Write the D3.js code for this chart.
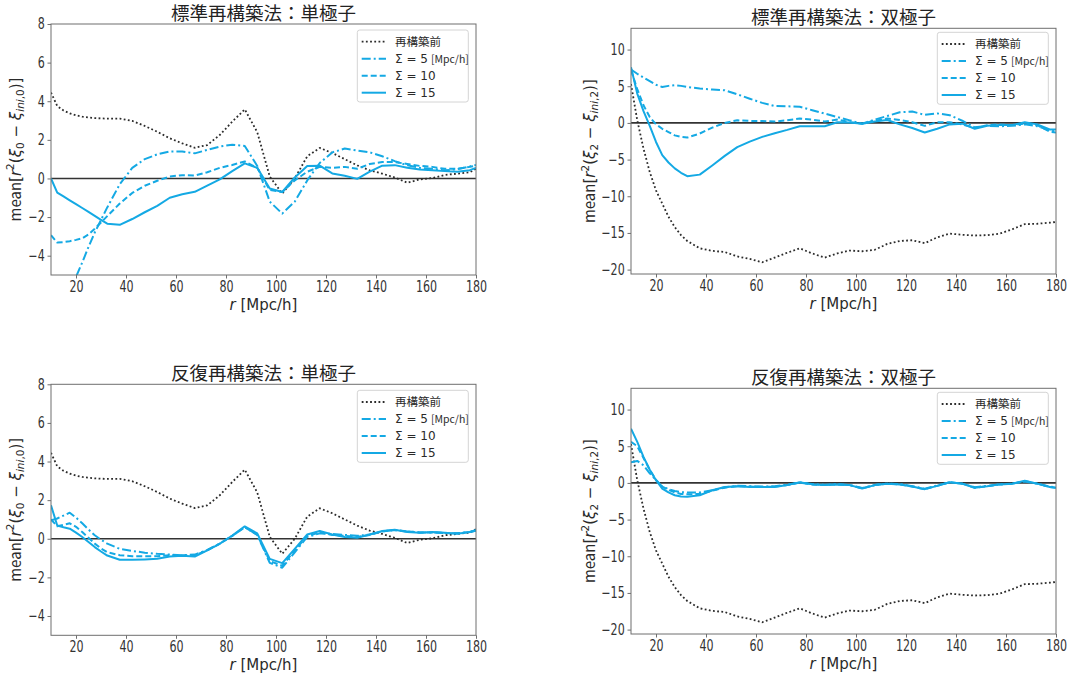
<!DOCTYPE html>
<html>
<head>
<meta charset="utf-8">
<script src="https://cdn.jsdelivr.net/npm/d3@7"></script>
<style>
  body { margin: 0; background: #fff; }
  svg text { font-family: "Noto Sans CJK JP", sans-serif; fill: #2a2a2a; }
</style>
</head>
<body>
<div id="chart"></div>
<script>
// separation r [Mpc/h] where every curve is sampled
var rValues = [10, 12.5, 15, 17.5, 20, 22.5, 25, 27.5, 30, 32.5, 37.5, 42.5, 47.5, 52.5, 57.5, 62.5,
  67.5, 72.5, 77.5, 82.5, 87.5, 92.5, 97.5, 102.5, 107.5, 112.5, 117.5, 122.5, 127.5, 132.5,
  137.5, 142.5, 147.5, 152.5, 157.5, 162.5, 167.5, 172.5, 177.5, 180];

// monopole: before reconstruction (same curve in both monopole panels)
var monoBefore = [4.45, 3.75, 3.52, 3.37, 3.27, 3.2, 3.16, 3.13, 3.11, 3.1, 3.1, 2.98, 2.72, 2.42, 2.08, 1.82,
  1.59, 1.73, 2.25, 2.94, 3.58, 2.4, 0.1, -0.78, 0.0, 1.15, 1.58, 1.32, 1.0, 0.68,
  0.42, 0.25, 0.05, -0.22, -0.05, 0.02, 0.18, 0.25, 0.32, 0.5];
// monopole, standard reconstruction
var monoStd5 = [-8.3, -7.5, -6.8, -6.0, -5.1, -4.35, -3.55, -2.8, -2.15, -1.5, -0.3, 0.55, 1.0, 1.25, 1.4, 1.4,
  1.3, 1.48, 1.65, 1.75, 1.68, 0.65, -1.2, -1.82, -1.2, -0.1, 0.8, 1.35, 1.55, 1.45,
  1.35, 1.15, 0.9, 0.68, 0.55, 0.5, 0.42, 0.48, 0.62, 0.7];
var monoStd10 = [-2.94, -3.32, -3.3, -3.25, -3.18, -3.1, -2.9, -2.6, -2.28, -1.95, -1.3, -0.75, -0.38, -0.12, 0.1, 0.17,
  0.15, 0.32, 0.55, 0.7, 0.88, 0.55, -0.6, -0.7, -0.1, 0.35, 0.6, 0.55, 0.6, 0.5,
  0.75, 0.85, 0.85, 0.75, 0.65, 0.6, 0.5, 0.5, 0.6, 0.65];
var monoStd15 = [0, -0.73, -0.93, -1.13, -1.33, -1.53, -1.73, -1.94, -2.14, -2.34, -2.4, -2.1, -1.75, -1.42, -1.0, -0.82,
  -0.69, -0.37, -0.05, 0.38, 0.78, 0.55, -0.52, -0.7, 0.05, 0.65, 0.66, 0.26, 0.14, -0.02,
  0.35, 0.66, 0.69, 0.55, 0.47, 0.43, 0.38, 0.35, 0.43, 0.55];
// monopole, iterative reconstruction
var monoIter5 = [0.95, 1.05, 1.2, 1.35, 1.1, 0.8, 0.48, 0.18, -0.05, -0.25, -0.52, -0.63, -0.72, -0.78, -0.82, -0.85,
  -0.82, -0.58, -0.25, 0.15, 0.6, 0.2, -1.25, -1.5, -0.7, 0.1, 0.28, 0.25, 0.2, 0.15,
  0.22, 0.38, 0.45, 0.38, 0.33, 0.33, 0.3, 0.28, 0.35, 0.45];
var monoIter10 = [1.0, 0.65, 0.72, 0.8, 0.62, 0.35, 0.05, -0.25, -0.5, -0.7, -0.85, -0.9, -0.9, -0.9, -0.85, -0.85,
  -0.85, -0.6, -0.25, 0.15, 0.6, 0.2, -1.15, -1.4, -0.6, 0.15, 0.32, 0.2, 0.15, 0.1,
  0.2, 0.38, 0.45, 0.38, 0.33, 0.33, 0.3, 0.28, 0.35, 0.42];
var monoIter15 = [1.73, 0.69, 0.6, 0.52, 0.32, 0.09, -0.17, -0.43, -0.66, -0.87, -1.09, -1.09, -1.07, -1.04, -0.92, -0.88,
  -0.92, -0.6, -0.26, 0.17, 0.64, 0.28, -1.04, -1.26, -0.52, 0.22, 0.4, 0.22, 0.09, 0.05,
  0.22, 0.4, 0.47, 0.35, 0.31, 0.35, 0.31, 0.26, 0.35, 0.42];

// quadrupole: before reconstruction
var quadBefore = [5.3, 0.36, -3.5, -6.7, -9.2, -11.0, -12.8, -14.2, -15.3, -16.1, -17.1, -17.45, -17.6, -18.2, -18.55, -19.0,
  -18.36, -17.7, -17.1, -17.8, -18.36, -17.8, -17.4, -17.5, -17.3, -16.5, -16.1, -16.0, -16.4, -15.6,
  -15.1, -15.25, -15.35, -15.3, -15.1, -14.5, -13.8, -13.75, -13.6, -13.5];
// quadrupole, standard reconstruction
var quadStd5 = [7.27, 6.7, 6.2, 5.7, 5.2, 4.9, 5.05, 5.14, 5.05, 4.9, 4.68, 4.55, 4.45, 3.9, 3.3, 2.73,
  2.3, 2.27, 2.2, 1.73, 1.27, 0.8, 0.35, -0.1, 0.45, 0.95, 1.45, 1.55, 1.1, 1.3,
  1.05, 0.3, -0.6, -0.4, -0.45, -0.4, -0.2, -0.45, -1.0, -1.2];
var quadStd10 = [7.2, 4.6, 2.4, 0.8, -0.2, -0.8, -1.25, -1.7, -1.9, -2.0, -1.45, -0.65, 0.0, 0.36, 0.27, 0.27,
  0.18, 0.36, 0.6, 0.45, 0.18, 0.45, 0.1, -0.1, 0.3, 0.6, 0.4, 0.1, -0.4, 0.1,
  0.1, -0.2, -0.7, -0.3, -0.2, -0.3, -0.1, -0.3, -1.2, -1.3];
var quadStd15 = [7.6, 4.0, 1.6, -0.4, -2.6, -4.4, -5.4, -6.2, -6.8, -7.27, -7.05, -5.8, -4.5, -3.3, -2.55, -1.9,
  -1.4, -0.95, -0.45, -0.45, -0.45, 0.1, 0.05, -0.1, 0.2, 0.4, -0.2, -0.7, -1.3, -0.8,
  -0.2, -0.1, -0.8, -0.4, -0.3, -0.3, 0.1, -0.2, -0.9, -0.9];
// quadrupole, iterative reconstruction
var quadIter5 = [2.8, 3.0, 2.4, 1.3, 0.4, -0.5, -0.85, -1.1, -1.25, -1.3, -1.3, -1.0, -0.6, -0.4, -0.45, -0.5,
  -0.45, -0.25, 0.05, -0.15, -0.25, -0.15, -0.3, -0.7, -0.3, -0.1, -0.15, -0.45, -0.8, -0.35,
  0.1, -0.1, -0.6, -0.4, -0.2, -0.1, 0.2, -0.1, -0.5, -0.6];
var quadIter10 = [5.6, 5.0, 3.4, 1.8, 0.4, -0.5, -0.95, -1.3, -1.5, -1.55, -1.5, -1.05, -0.65, -0.45, -0.5, -0.55,
  -0.5, -0.3, 0.05, -0.2, -0.3, -0.2, -0.3, -0.75, -0.3, -0.1, -0.2, -0.5, -0.85, -0.4,
  0.1, -0.1, -0.65, -0.45, -0.2, -0.1, 0.25, -0.1, -0.55, -0.65];
var quadIter15 = [7.4, 5.6, 3.55, 1.8, 0.36, -0.77, -1.3, -1.68, -1.85, -1.9, -1.68, -1.0, -0.55, -0.45, -0.55, -0.55,
  -0.55, -0.3, 0.1, -0.2, -0.3, -0.2, -0.3, -0.75, -0.3, -0.1, -0.2, -0.5, -0.85, -0.4,
  0.1, -0.1, -0.65, -0.45, -0.2, -0.1, 0.3, -0.1, -0.55, -0.65];

// tick values and labels
var xTicks = [20, 40, 60, 80, 100, 120, 140, 160, 180];
var monoTicks = [-4, -2, 0, 2, 4, 6, 8];
var quadTicks = [-20, -15, -10, -5, 0, 5, 10];
var legendLabels = ["再構築前", "Σ = 5", "Σ = 10", "Σ = 15"];
var legendUnit = "[Mpc/h]";
var titles = ["標準再構築法：単極子", "標準再構築法：双極子", "反復再構築法：単極子", "反復再構築法：双極子"];

// fonts and colours
var cjkFont = '"Noto Sans CJK JP", sans-serif';
var mathFont = '"DejaVu Sans", sans-serif';
var blue = "#14a9e4";
var frameColor = "#6e6e6e";
var lineStyles = [
  {color: "#2b2b2b", width: 1.8, dash: "1.8,2.4"},
  {color: blue, width: 2, dash: "9,3,2,3"},
  {color: blue, width: 2, dash: "6,3"},
  {color: blue, width: 2, dash: null}
];

// panel boxes (pixels)
var panels = [
  {left: 51, top: 24, w: 425, h: 251, domain: [-5, 8], ticks: monoTicks, ell: "0", labelX: 20.5, legendDy: 6,
    series: [monoBefore, monoStd5, monoStd10, monoStd15]},
  {left: 631, top: 28.3, w: 425, h: 245.7, domain: [-20.6, 12.9], ticks: quadTicks, ell: "2", labelX: 595, legendDy: 4,
    series: [quadBefore, quadStd5, quadStd10, quadStd15]},
  {left: 51, top: 384.3, w: 425, h: 251, domain: [-5, 8], ticks: monoTicks, ell: "0", labelX: 20.5, legendDy: 6,
    series: [monoBefore, monoIter5, monoIter10, monoIter15]},
  {left: 631, top: 388.3, w: 425, h: 245.7, domain: [-20.6, 12.9], ticks: quadTicks, ell: "2", labelX: 595, legendDy: 4,
    series: [quadBefore, quadIter5, quadIter10, quadIter15]}
];

var width = 1073, height = 674;
var svg = d3.select("#chart").append("svg")
  .attr("width", width)
  .attr("height", height);

// append tspans for a small mathtext-like label
function addParts(text, parts, size) {
  var shift = 0;
  parts.forEach(function(pt) {
    var s = pt.sup ? -0.42 * size : (pt.sub ? 0.22 * size : 0);
    text.append("tspan")
      .attr("dy", s - shift)
      .style("font-size", ((pt.sup || pt.sub) ? size * 0.7 : size) + "px")
      .style("font-style", pt.it ? "italic" : "normal")
      .style("font-family", pt.cjk ? cjkFont : mathFont)
      .text(pt.t);
    shift = s;
  });
}

panels.forEach(function(p, i) {
  var x = d3.scaleLinear().domain([10, 180]).range([p.left, p.left + p.w]);
  var y = d3.scaleLinear().domain(p.domain).range([p.top + p.h, p.top]);
  var g = svg.append("g");

  g.append("clipPath").attr("id", "clip" + i)
    .append("rect")
    .attr("x", p.left).attr("y", p.top)
    .attr("width", p.w).attr("height", p.h);

  // title
  g.append("text")
    .attr("x", p.left + p.w / 2)
    .attr("y", p.top - 4.5)
    .attr("text-anchor", "middle")
    .style("font-size", "18.5px")
    .style("fill", "#222")
    .text(titles[i]);

  // zero line
  g.append("line")
    .attr("x1", p.left).attr("x2", p.left + p.w)
    .attr("y1", y(0)).attr("y2", y(0))
    .attr("stroke", "#333")
    .attr("stroke-width", 1.6);

  // curves
  var line = d3.line()
    .x(function(d) { return x(d[0]); })
    .y(function(d) { return y(d[1]); });
  var plot = g.append("g").attr("clip-path", "url(#clip" + i + ")");
  p.series.forEach(function(vals, k) {
    var st = lineStyles[k];
    plot.append("path")
      .datum(d3.zip(rValues, vals))
      .attr("d", line)
      .attr("fill", "none")
      .attr("stroke", st.color)
      .attr("stroke-width", st.width)
      .attr("stroke-dasharray", st.dash)
      .attr("stroke-linejoin", "round");
  });

  // axes
  var xAxis = d3.axisBottom(x).tickValues(xTicks).tickSize(3.5).tickPadding(2.5);
  var yAxis = d3.axisLeft(y).tickValues(p.ticks).tickSize(3.5).tickPadding(3);
  var gx = g.append("g").attr("transform", "translate(0," + (p.top + p.h) + ")").call(xAxis);
  var gy = g.append("g").attr("transform", "translate(" + p.left + ",0)").call(yAxis);
  [gx, gy].forEach(function(ax) {
    ax.select(".domain").remove();
    ax.selectAll(".tick line").attr("stroke", frameColor);
    ax.selectAll(".tick text")
      .style("font-family", mathFont)
      .style("font-size", "15px")
      .style("fill", "#333")
      .attr("transform", "scale(0.74,1)");
  });
  gy.selectAll(".tick text").attr("x", -8.5);

  // frame
  g.append("rect")
    .attr("x", p.left).attr("y", p.top)
    .attr("width", p.w).attr("height", p.h)
    .attr("fill", "none")
    .attr("stroke", frameColor)
    .attr("stroke-width", 1);

  // x label
  var xl = g.append("text")
    .attr("x", p.left + p.w / 2)
    .attr("y", p.top + p.h + 34.5)
    .attr("text-anchor", "middle");
  addParts(xl, [{t: "r", it: true}, {t: " " + legendUnit}], 15);

  // y label
  var yl = g.append("text")
    .attr("transform", "translate(" + p.labelX + "," + (p.top + p.h / 2) + ") rotate(-90)")
    .attr("text-anchor", "middle");
  addParts(yl, [
    {t: "mean", cjk: true}, {t: "["}, {t: "r", it: true}, {t: "2", sup: true}, {t: "("},
    {t: "ξ", it: true}, {t: p.ell, sub: true}, {t: " − "}, {t: "ξ", it: true},
    {t: "ini", sub: true, it: true}, {t: "," + p.ell, sub: true}, {t: ")]"}
  ], 15);

  // legend
  var lx = p.left + p.w - 118.7, ly = p.top + p.legendDy;
  var leg = g.append("g").attr("transform", "translate(" + lx + "," + ly + ")");
  leg.append("rect")
    .attr("width", 111).attr("height", 72)
    .attr("rx", 2.5)
    .attr("fill", "#fff").attr("fill-opacity", 0.85)
    .attr("stroke", "#d4d4d4");
  legendLabels.forEach(function(lab, k) {
    var cy = 11.7 + k * 17;
    var st = lineStyles[k];
    leg.append("line")
      .attr("x1", 4.4).attr("x2", 28.7)
      .attr("y1", cy).attr("y2", cy)
      .attr("stroke", st.color)
      .attr("stroke-width", st.width)
      .attr("stroke-dasharray", st.dash);
    var t = leg.append("text").attr("x", 37.7).attr("y", cy + 4.3);
    if (k === 0) {
      t.style("font-family", cjkFont).style("font-size", "11.5px").text(lab);
    } else {
      t.append("tspan").style("font-family", mathFont).style("font-size", "12px").text(lab);
      if (k === 1) {
        t.append("tspan").attr("dx", 3).style("font-family", cjkFont).style("font-size", "10.5px").text(legendUnit);
      }
    }
  });
});
</script>
</body>
</html>
